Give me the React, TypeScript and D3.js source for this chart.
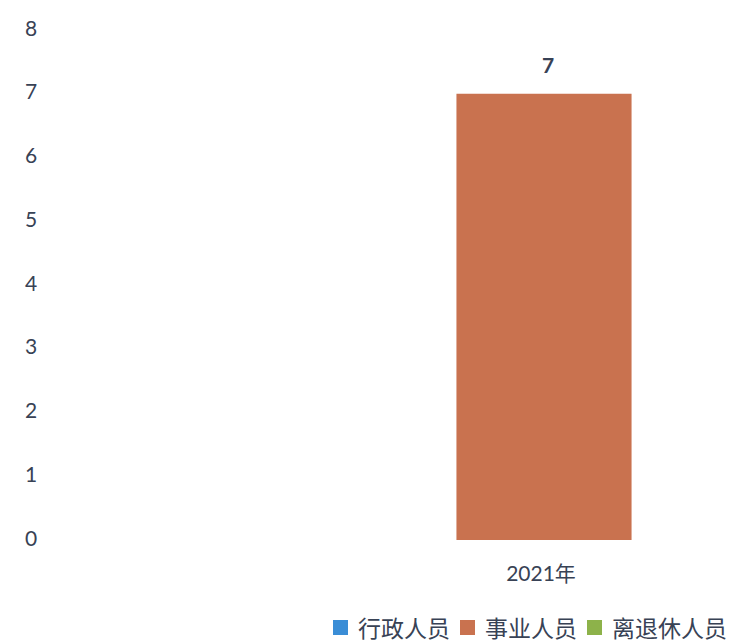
import * as d3 from "d3";

// chart data
const categories = ["2021年"];
const seriesNames = ["行政人员", "事业人员", "离退休人员"];
const seriesValues = [[0], [7], [0]]; // per series, per category
const yTicks = [0, 1, 2, 3, 4, 5, 6, 7, 8];
const seriesColors = ["#3a8dd6", "#c9724f", "#8db24a"];

const W = 734;
const H = 643;
const textColor = "#384255";
const font = "Lato, 'Noto Sans CJK SC', sans-serif";

export default function App() {
    const y = d3.scaleLinear().domain([0, 8]).range([540, 30]);
    const x0 = d3.scaleBand<string>()
        .domain(categories)
        .range([150, 938])
        .paddingOuter(0.25);
    const x1 = d3.scaleBand<string>()
        .domain(seriesNames)
        .range([0, x0.bandwidth()]);

    // legend layout: square, gap, text
    const legendFont = 23;
    let lx = 333;
    const legendItems = seriesNames.map((name, i) => {
        const item = {name, color: seriesColors[i], x: lx};
        lx += 15 + 10 + name.length * legendFont + 10;
        return item;
    });

    return <svg width={W} height={H} style={{position: "absolute", left: 0, top: 0, background: "#fff"}}
                fontFamily={font}>
        {yTicks.map(t => (
            <text key={t} x={31} y={y(t) - 3} fill={textColor} fontSize={21}
                  textAnchor="middle" dominantBaseline="central">{t}</text>
        ))}
        {categories.map((c, ci) => (
            <g key={c} transform={`translate(${x0(c)},0)`}>
                {seriesNames.map((s, si) => {
                    const v = seriesValues[si][ci];
                    if (!v) return null;
                    return <g key={s}>
                        <rect x={x1(s)} y={y(v)} width={x1.bandwidth()} height={y(0) - y(v)}
                              fill={seriesColors[si]}/>
                        <text x={(x1(s) ?? 0) + x1.bandwidth() / 2 + 4} y={y(v) - 21} fill={textColor}
                              fontSize={21} fontWeight={700} textAnchor="middle">{v}</text>
                    </g>;
                })}
                <text x={x0.bandwidth() / 2 - 3} y={572} fill={textColor} fontSize={21}
                      textAnchor="middle" dominantBaseline="central">{c}</text>
            </g>
        ))}
        {legendItems.map(it => (
            <g key={it.name} transform={`translate(${it.x},0)`}>
                <rect x={0} y={620} width={15} height={15} fill={it.color}/>
                <text x={25} y={628} fill={textColor} fontSize={legendFont}
                      dominantBaseline="central">{it.name}</text>
            </g>
        ))}
    </svg>;
}
